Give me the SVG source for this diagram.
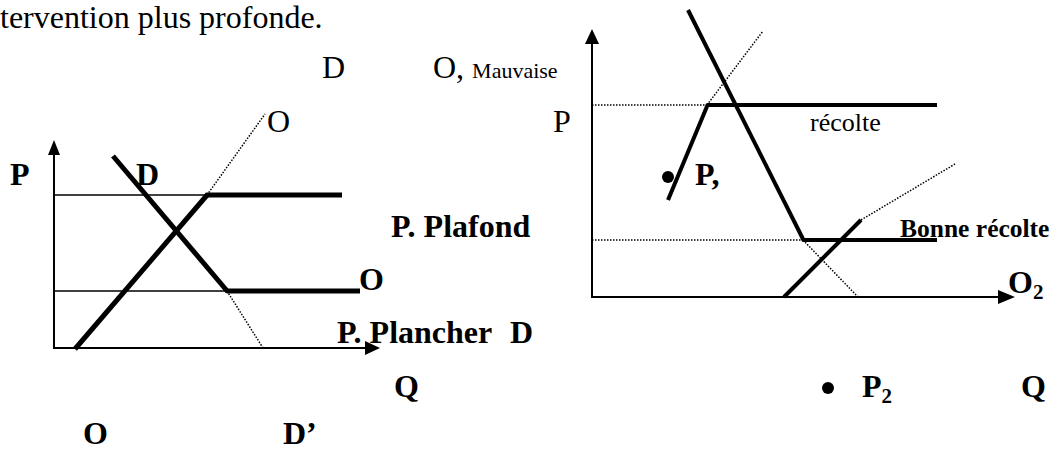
<svg xmlns="http://www.w3.org/2000/svg" width="1052" height="452" viewBox="0 0 1052 452">
<style>
.t{font-family:"Liberation Serif","Times New Roman",serif;font-size:32px;fill:#000}
.b{font-weight:bold}
.thick{stroke:#000;stroke-width:5;fill:none;stroke-linecap:butt}
.thickR{stroke:#000;stroke-width:4;fill:none}
.thin{stroke:#000;stroke-width:1.5;fill:none}
.axis{stroke:#000;stroke-width:2;fill:none}
.dot{stroke:#000;stroke-width:1.5;stroke-dasharray:1.5 1.5;fill:none}
</style>
<rect width="1052" height="452" fill="#fff"/>
<text class="t" x="0" y="28">tervention plus profonde.</text>

<g id="left-chart">
  <g id="left-axes">
    <line class="axis" x1="54" y1="152" x2="54" y2="348"/>
    <polygon points="54,140 48,155 60,155" fill="#000"/>
    <line class="axis" x1="53" y1="348" x2="368" y2="348"/>
    <polygon points="380,348 365,341 365,355" fill="#000"/>
  </g>
  <g id="left-curves">
    <line class="thin" x1="54" y1="195" x2="207" y2="195"/>
    <line class="thin" x1="54" y1="291" x2="227" y2="291"/>
    <line class="thick" x1="207" y1="195" x2="342" y2="195"/>
    <line class="thick" x1="227" y1="291" x2="360" y2="291"/>
    <line class="thick" x1="75" y1="349" x2="208" y2="194"/>
    <line class="thick" x1="113" y1="156" x2="228" y2="292"/>
    <line class="dot" x1="207" y1="195" x2="265" y2="114"/>
    <line class="dot" x1="227" y1="291" x2="263" y2="348"/>
  </g>
  <g id="left-labels">
    <text class="t b" x="10" y="185">P</text>
    <text class="t b" x="136" y="185">D</text>
    <text class="t" x="267" y="132">O</text>
    <text class="t" x="322" y="78">D</text>
    <text class="t b" x="391" y="237">P. Plafond</text>
    <text class="t b" x="359" y="290">O</text>
    <text class="t b" x="337" y="343">P. Plancher</text>
    <text class="t b" x="510" y="343">D</text>
    <text class="t b" x="394" y="397">Q</text>
    <text class="t b" x="83" y="444">O</text>
    <text class="t b" x="283" y="444">D’</text>
  </g>
</g>

<g id="right-chart">
  <g id="right-axes">
    <line class="axis" x1="592" y1="40" x2="592" y2="298"/>
    <polygon points="592,29 585,44 599,44" fill="#000"/>
    <line class="axis" x1="591" y1="297" x2="1000" y2="297"/>
    <polygon points="1015,297 998,290 998,304" fill="#000"/>
  </g>
  <g id="right-curves">
    <line class="dot" x1="592" y1="105" x2="707" y2="105"/>
    <line class="dot" x1="592" y1="240" x2="803" y2="240"/>
    <line class="thickR" x1="707" y1="105" x2="937" y2="105"/>
    <line class="thickR" x1="668" y1="200" x2="708" y2="104"/>
    <line class="dot" x1="707" y1="105" x2="763" y2="31"/>
    <line class="thickR" x1="688" y1="10" x2="804" y2="241"/>
    <line class="thickR" x1="803" y1="240" x2="937" y2="240"/>
    <line class="dot" x1="803" y1="240" x2="858" y2="297"/>
    <line class="thickR" x1="784" y1="297" x2="861" y2="220"/>
    <line class="dot" x1="861" y1="220" x2="955" y2="164"/>
  </g>
  <g id="right-labels">
    <text class="t" x="433" y="78">O, <tspan style="font-size:22px">Mauvaise</tspan></text>
    <text class="t" x="553" y="132">P</text>
    <text class="t" x="810" y="131" style="font-size:26px">récolte</text>
    <circle cx="668" cy="177" r="6" fill="#000"/>
    <text class="t b" x="695" y="185">P,</text>
    <text class="t b" x="900" y="237" style="font-size:25.5px">Bonne récolte</text>
    <text class="t b" x="1008" y="293">O<tspan style="font-size:21px" dy="6">2</tspan></text>
    <circle cx="828" cy="388" r="6" fill="#000"/>
    <text class="t b" x="862" y="397">P<tspan style="font-size:21px" dy="6">2</tspan></text>
    <text class="t b" x="1021" y="397">Q</text>
  </g>
</g>
</svg>
